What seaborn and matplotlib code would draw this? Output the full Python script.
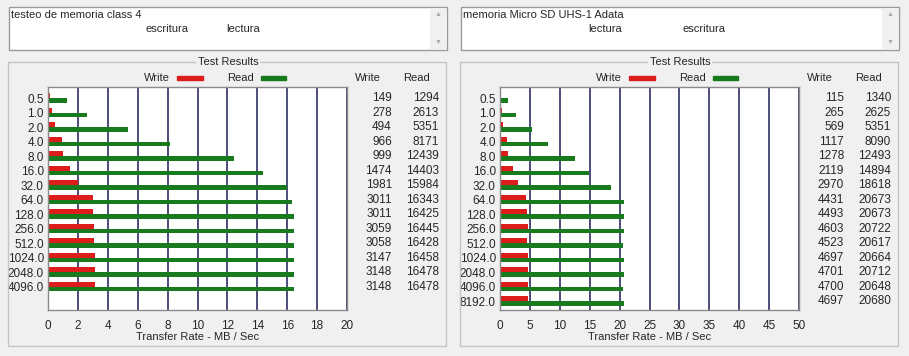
import seaborn as sns
import matplotlib.pyplot as plt
import matplotlib.transforms as mtransforms
from matplotlib.patches import Rectangle
import pandas as pd

# transfer sizes (KB) and results (KB/s)
sizes_a = ["0.5", "1.0", "2.0", "4.0", "8.0", "16.0", "32.0", "64.0", "128.0",
           "256.0", "512.0", "1024.0", "2048.0", "4096.0"]
write_a = [149, 278, 494, 966, 999, 1474, 1981, 3011, 3011, 3059, 3058, 3147, 3148, 3148]
read_a = [1294, 2613, 5351, 8171, 12439, 14403, 15984, 16343, 16425, 16445, 16428,
          16458, 16478, 16478]

sizes_b = sizes_a + ["8192.0"]
write_b = [115, 265, 569, 1117, 1278, 2119, 2970, 4431, 4493, 4603, 4523, 4697,
           4701, 4700, 4697]
read_b = [1340, 2625, 5351, 8090, 12493, 14894, 18618, 20673, 20673, 20722, 20617,
          20664, 20712, 20648, 20680]

titles = ["testeo de memoria class 4", "memoria Micro SD UHS-1 Adata"]
notes = [[("escritura", 167), ("lectura", 243)], [("lectura", 605), ("escritura", 704)]]
xmax = [20, 50]
xstep = [2, 5]

W, H = 909, 356
BG = "#f0f0f0"
RED = "#dd1c1c"
GREEN = "#177a1c"
GRID = "#1c1c58"

sns.set_style("white")
plt.rcParams["font.family"] = ["Liberation Sans", "DejaVu Sans"]
plt.rcParams["font.size"] = 8

fig = plt.figure(figsize=(W / 100, H / 100), dpi=100, facecolor=BG)


def fx(x):
    return x / W


def fy(y):
    return 1 - y / H


def box(x0, y0, x1, y1, fc="none", ec="#a0a0a0", lw=1.0):
    fig.patches.append(Rectangle((fx(x0), fy(y1)), fx(x1 - x0), (y1 - y0) / H,
                                 transform=fig.transFigure, fc=fc, ec=ec, lw=lw))


panels = [
    (0, sizes_a, write_a, read_a),
    (452, sizes_b, write_b, read_b),
]

for k, (off, sizes, writes, reads) in enumerate(panels):
    # description box with scrollbar
    box(off + 9, 7, off + 447, 50, fc="white", ec="#9a9a9a")
    box(off + 430, 8, off + 446, 49, fc=BG, ec="none")
    fig.text(fx(off + 438), fy(15), "\u25b2", ha="center", va="center", fontsize=5, color="#a8a8a8")
    fig.text(fx(off + 438), fy(42), "\u25bc", ha="center", va="center", fontsize=5, color="#a8a8a8")
    fig.text(fx(off + 11), fy(15), titles[k], ha="left", va="center", fontsize=8)
    for word, cx in notes[k]:
        fig.text(fx(cx), fy(29), word, ha="center", va="center", fontsize=8)

    # group box
    box(off + 8, 62, off + 446, 346, ec="#c4c4c4")
    fig.text(fx(off + 228), fy(62), "Test Results", ha="center", va="center", fontsize=8,
             bbox=dict(fc=BG, ec="none", pad=1))

    ax = fig.add_axes([fx(off + 48), fy(310), 299 / W, 223 / H])
    df = pd.DataFrame({
        "size": sizes * 2,
        "rate": [v / 1000 for v in writes] + [v / 1000 for v in reads],
        "test": ["Write"] * len(sizes) + ["Read"] * len(sizes),
    })
    sns.barplot(data=df, x="rate", y="size", hue="test", order=sizes,
                hue_order=["Write", "Read"], palette=[RED, GREEN], saturation=1,
                width=0.68, orient="h", legend=False, linewidth=0, ax=ax)
    ax.set_facecolor("white")
    ax.set_xlim(0, xmax[k])
    ax.set_ylim(14.62, -0.76)
    ax.set_xticks(range(0, xmax[k] + 1, xstep[k]))
    ax.xaxis.grid(True, color=GRID, lw=1.1)
    ax.yaxis.grid(False)
    ax.set_axisbelow(True)
    ax.tick_params(axis="x", length=0, pad=7, labelsize=8.5)
    ax.tick_params(axis="y", length=0, pad=3, labelsize=8.5)
    ax.set_xlabel("Transfer Rate - MB / Sec", fontsize=8, labelpad=0)
    ax.set_ylabel("")
    for s in ax.spines.values():
        s.set_color("#8a8a8a")
        s.set_linewidth(1)

    # legend row
    ax.text(0.365, 1.04, "Write", transform=ax.transAxes, ha="center", va="center", fontsize=8)
    ax.add_patch(Rectangle((0.432, 1.031), 0.085, 0.018, transform=ax.transAxes,
                           color=RED, clip_on=False))
    ax.text(0.645, 1.04, "Read", transform=ax.transAxes, ha="center", va="center", fontsize=8)
    ax.add_patch(Rectangle((0.711, 1.031), 0.085, 0.018, transform=ax.transAxes,
                           color=GREEN, clip_on=False))

    # numeric columns
    ax.text(1.070, 1.04, "Write", transform=ax.transAxes, ha="center", va="center", fontsize=8)
    ax.text(1.234, 1.04, "Read", transform=ax.transAxes, ha="center", va="center", fontsize=8)
    tr = mtransforms.blended_transform_factory(ax.transAxes, ax.transData)
    for i, (w, r) in enumerate(zip(writes, reads)):
        ax.text(1.150, i, str(w), transform=tr, ha="right", va="center", fontsize=8.5, clip_on=False)
        ax.text(1.308, i, str(r), transform=tr, ha="right", va="center", fontsize=8.5, clip_on=False)

fig.savefig("out.png", dpi=100, facecolor=BG)
